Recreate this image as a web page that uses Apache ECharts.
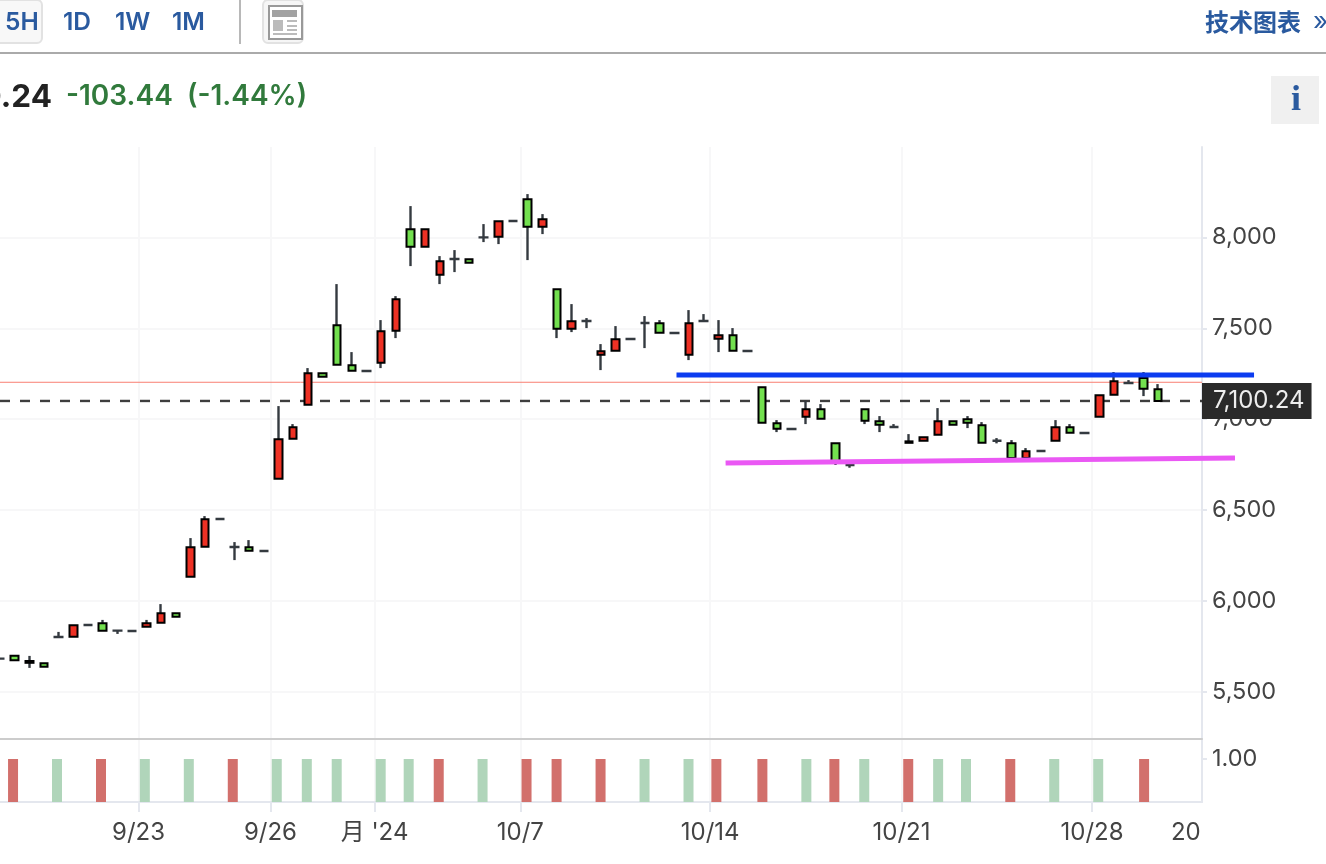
<!DOCTYPE html>
<html><head><meta charset="utf-8">
<style>html,body{margin:0;padding:0;background:#fff}#c{width:1326px;height:864px}</style>
<script src="https://cdn.jsdelivr.net/npm/echarts@6/dist/echarts.min.js"></script>
</head><body><div id="c"></div>
<script>
const opens=[5683,5699,5670,5657,5802,5804,5868,5877,5837,5835,5859,5881,5932,6134,6299,6451,6297,6295,6275,6673,6893,7079,7252,7516,7296,7265,7310,7486,8044,7948,7794,7881,7879,8000,8003,8090,8209,8058,7714,7497,7540,7354,7376,7441,7529,7527,7474,7354,7540,7442,7461,7375,7175,6977,6946,7013,7054,6867,6748,7054,6988,6957,6878,6881,6914,6988,6999,6966,6881,6867,6786,6825,6881,6955,6924,7013,7134,7199,7226,7164];
const closes=[5683,5674,5660,5639,5802,5866,5868,5837,5837,5835,5877,5932,5914,6295,6449,6451,6297,6277,6275,6889,6955,7252,7233,7299,7266,7265,7483,7659,7948,8044,7868,7881,7860,8000,8088,8090,8058,8099,7497,7538,7540,7373,7439,7441,7529,7475,7474,7527,7540,7461,7376,7375,6980,6947,6946,7054,7002,6770,6748,6991,6969,6957,6870,6900,6988,6969,6980,6870,6881,6786,6823,6825,6955,6925,6924,7131,7208,7199,7167,7100.24];
const lows=[5683,5674,5632,5639,5802,5804,5868,5837,5819,5835,5859,5881,5914,6134,6299,6451,6225,6277,6275,6673,6893,7079,7233,7299,7266,7265,7281,7446,7842,7948,7743,7809,7860,7974,7963,8090,7875,8018,7446,7479,7501,7270,7376,7441,7391,7475,7474,7325,7540,7369,7376,7375,6980,6929,6946,6973,7002,6748,6733,6973,6929,6957,6870,6881,6914,6969,6951,6870,6867,6786,6786,6825,6881,6925,6924,7013,7134,7199,7127,7100.24];
const highs=[5683,5699,5698,5657,5830,5866,5868,5896,5837,5835,5896,5983,5932,6346,6467,6451,6324,6335,6275,7072,6973,7281,7252,7743,7369,7265,7545,7677,8172,8044,7897,7930,7879,8073,8088,8090,8238,8128,7714,7633,7556,7413,7512,7441,7567,7545,7474,7600,7578,7545,7501,7375,7175,6995,6946,7101,7083,6867,6748,7054,7017,6973,6918,6900,7061,6988,7017,6984,6896,6885,6841,6825,6995,6973,6924,7131,7259,7215,7259,7193];

const volumeIndex=[0.89,3.89,6.89,9.88,12.88,15.88,18.88,20.93,22.97,25.97,27.88,29.93,32.92,35.92,37.97,40.97,43.97,46.97,48.87,52.01,55.01,56.92,58.96,61.96,64,65.9,68.92,71.92,74.92,78.05];
const volumeUp=[1,0,1,0,0,1,0,0,0,0,0,1,0,1,1,1,0,0,1,1,0,1,0,1,0,0,1,0,0,1];
const volumeValue=1;

const xTickIndex=[9.45,18.45,25.55,35.5,48.45,61.5,74.5];
const xLabelIndex=[9.45,18.45,25.55,35.5,48.45,61.5,74.5,80.9];
const xLabels=['9/23','9/26',"月 '24",'10/7','10/14','10/21','10/28','20'];
const yTicks=[5500,6000,6500,7000,7500,8000];
const volTicks=[1];
const lastPrice=7100.24;
const refPrice=7203;
const blueLine=[46.15,7243,85.55,7243];
const magentaLine=[49.5,6759,84.25,6786];

const FONT="Inter,'Noto Sans CJK SC',sans-serif";
const BLUE='#2a5a9f', GRID='#f7f7f8', AXIS='#e4e7ee', LABEL='#444';
const idx=opens.map((_,i)=>i);
const wickData=idx.map(i=>[i,opens[i],closes[i],lows[i],highs[i]]);
const bodyData=idx.filter(i=>opens[i]!==closes[i]).map(i=>[i,opens[i],closes[i],Math.min(opens[i],closes[i]),Math.max(opens[i],closes[i])]);
const dojiData=idx.filter(i=>opens[i]===closes[i]).map(i=>[i,opens[i],opens[i],opens[i],opens[i]]);
const volData=volumeIndex.map((v,k)=>({value:[v,volumeValue],itemStyle:{color:volumeUp[k]?'#d2706c':'#b0d5ba'}}));

const txt=(x,y,text,o)=>({type:'text',x,y,silent:true,z:50,style:Object.assign({text,fontFamily:FONT,fill:BLUE,fontSize:24.5,fontWeight:600,textAlign:'left',textVerticalAlign:'middle'},o||{})});
const rect=(x,y,w,h,fill,o)=>({type:'rect',silent:true,z:49,shape:Object.assign({x,y,width:w,height:h},o&&o.shape||{}),style:Object.assign({fill},o&&o.style||{})});
const graphic=[
 rect(-6,0,48,43,'#f8f8f8',{shape:{r:5},style:{stroke:'#e2e2e2',lineWidth:2}}),
 txt(5,23,'5H'),txt(63,23,'1D'),txt(115,23,'1W'),txt(172,23,'1M'),
 rect(239,0,2,44,'#b8b8b8'),
 rect(263,0,40,43,'#f6f6f6',{shape:{r:5},style:{stroke:'#e2e2e2',lineWidth:2}}),
 rect(269,6,33,33,'#fff',{style:{stroke:'#999',lineWidth:2}}),
 rect(272,10,25,7,'#a2a2a2'),rect(273,20,10,11,'#bbb'),
 rect(287,20,10,2,'#bbb'),rect(287,25,10,2,'#bbb'),rect(287,29,10,2,'#bbb'),rect(273,33,24,2,'#bbb'),
 txt(1205,22,'技术图表',{fontFamily:"'Noto Sans CJK SC',sans-serif",fontSize:24,fontWeight:'bold'}),
 txt(1313,22,'»',{fontSize:26,fontWeight:'normal'}),
 rect(0,52,1326,2,'#aaaaaa'),
 txt(52,98,'7,100.24',{textAlign:'right',fontSize:31.5,fontWeight:'bold',fill:'#222'}),
 txt(66,97,'-103.44',{fontSize:28,fill:'#317a3c'}),
 txt(187,97,'(-1.44%)',{fontSize:28,fill:'#317a3c'}),
 rect(1271,76,48,48,'#f0f0f0'),
 txt(1296,101,'i',{fontFamily:"'Liberation Serif',serif",fontWeight:'bold',fontSize:36,textAlign:'center'})
];
const flat=(data,color,width,dash,z,extra)=>Object.assign({type:'line',data,showSymbol:false,symbol:'none',silent:true,z,lineStyle:{color,width,type:dash||'solid',cap:'butt'},animation:false,xAxisIndex:0,yAxisIndex:0},extra||{});
const trend=(pts,color,z)=>({type:'custom',xAxisIndex:0,yAxisIndex:0,silent:true,z,clip:false,data:[pts],
  encode:{x:[0,2],y:[1,3]},
  renderItem:(p,api)=>{const a=api.coord([api.value(0),api.value(1)]),b=api.coord([api.value(2),api.value(3)]);
    return {type:'line',shape:{x1:a[0],y1:a[1],x2:b[0],y2:b[1]},style:{stroke:color,lineWidth:5,fill:null}};}});

const option={
 animation:false,
 textStyle:{fontFamily:FONT},
 graphic,
 grid:[{left:-1,width:1203,top:147,height:592},{left:-1,width:1203,top:739,height:63}],
 xAxis:[
  {type:'value',gridIndex:0,min:0,max:82,position:'bottom',
   axisLine:{show:true,onZero:false,lineStyle:{color:'#cccccc',width:2}},
   axisTick:{show:false,customValues:xTickIndex},axisLabel:{show:false,customValues:xLabelIndex},
   splitLine:{show:true,lineStyle:{color:GRID,width:2}}},
  {type:'value',gridIndex:1,min:0,max:82,position:'bottom',
   axisLine:{show:true,onZero:false,lineStyle:{color:AXIS,width:2}},
   axisTick:{show:true,length:10,customValues:xTickIndex,lineStyle:{color:AXIS,width:2}},
   axisLabel:{show:true,customValues:xLabelIndex,margin:19,color:LABEL,fontSize:24,fontFamily:FONT,hideOverlap:false,
     formatter:v=>{const k=xLabelIndex.indexOf(v);return k>=0?xLabels[k]:'';}},
   splitLine:{show:true,lineStyle:{color:GRID,width:2}}}
 ],
 yAxis:[
  {type:'value',gridIndex:0,position:'right',min:5241,max:8497,scale:true,
   axisLine:{show:true,onZero:false,lineStyle:{color:AXIS,width:2}},
   axisTick:{show:true,length:5,customValues:yTicks,lineStyle:{color:AXIS,width:2}},
   axisLabel:{customValues:yTicks,margin:10,color:LABEL,fontSize:23.5,fontFamily:FONT,padding:[4,0,0,0],formatter:v=>v.toLocaleString('en-US')},
   splitLine:{show:true,lineStyle:{color:GRID,width:2}}},
  {type:'value',gridIndex:1,position:'right',min:0,max:1.465,
   axisLine:{show:true,onZero:false,lineStyle:{color:AXIS,width:2}},
   axisTick:{show:true,length:5,customValues:volTicks,lineStyle:{color:AXIS,width:2}},
   axisLabel:{customValues:volTicks,margin:10,color:LABEL,fontSize:23.5,fontFamily:FONT,padding:[4,0,0,0],formatter:v=>v.toFixed(2)},
   splitLine:{show:false}}
 ],
 series:[
  flat([[0,refPrice],[82,refPrice]],'#f97f72',1,null,1),
  flat([[0,lastPrice],[82,lastPrice]],'#3e3e3e',2.4,[10,10],1,{
    endLabel:{show:true,formatter:()=>lastPrice.toLocaleString('en-US',{minimumFractionDigits:2}),distance:0,
      backgroundColor:'#2a2a2a',color:'#eeeeee',fontSize:24,fontFamily:FONT,padding:[6,7,6,11],align:'left'}}),
  {type:'candlestick',name:'wick',xAxisIndex:0,yAxisIndex:0,z:3,silent:true,barWidth:1,data:wickData,
   itemStyle:{color:'#343a40',color0:'#343a40',borderColor:'#343a40',borderColor0:'#343a40',borderColorDoji:'#343a40',borderWidth:2.4}},
  {type:'candlestick',name:'doji',xAxisIndex:0,yAxisIndex:0,z:3,silent:true,barWidth:10,data:dojiData,
   itemStyle:{color:'#343a40',color0:'#343a40',borderColor:'#343a40',borderColor0:'#343a40',borderColorDoji:'#343a40',borderWidth:2.4}},
  {type:'candlestick',name:'body',xAxisIndex:0,yAxisIndex:0,z:4,silent:true,barWidth:8,data:bodyData,
   itemStyle:{color:'#ee3124',color0:'#73e04f',borderColor:'#000',borderColor0:'#000',borderWidth:2}},
  trend(blueLine,'#0c3cf0',6),
  trend(magentaLine,'#ea58f4',6),
  {type:'bar',xAxisIndex:1,yAxisIndex:1,barWidth:10,silent:true,data:volData,z:3}
 ]
};
const chart=echarts.init(document.getElementById('c'));
chart.setOption(option);
</script></body></html>
